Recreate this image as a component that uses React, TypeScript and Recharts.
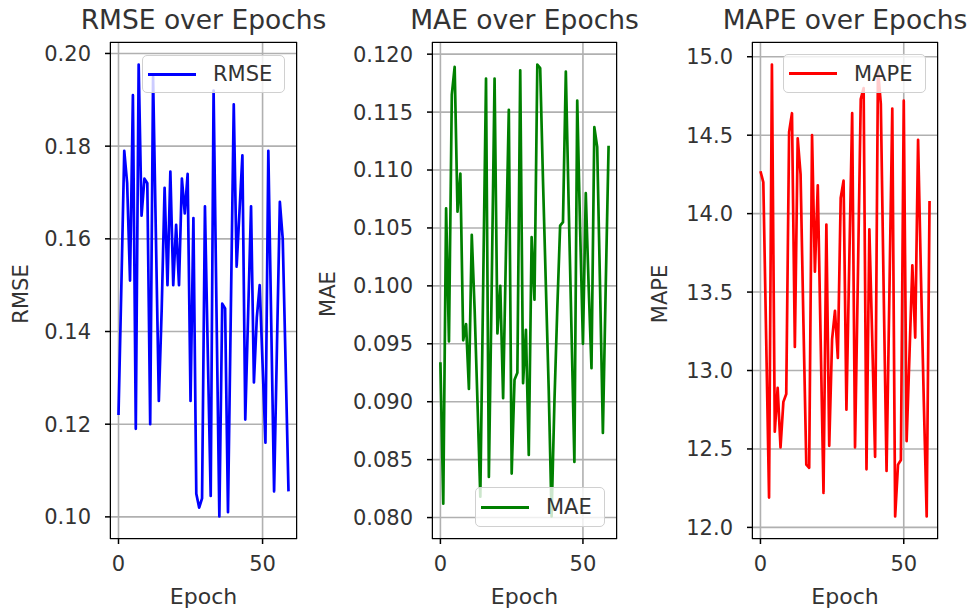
import React from 'react'
import { LineChart, Line, XAxis, YAxis, CartesianGrid, Legend } from 'recharts'

// values, epochs 0..59
const rmse = [
  0.122, 0.150, 0.179, 0.172, 0.151, 0.191, 0.119, 0.1976, 0.165, 0.173,
  0.172, 0.120, 0.195, 0.160, 0.125, 0.145, 0.171, 0.150, 0.1745, 0.150,
  0.163, 0.150, 0.173, 0.1655, 0.174, 0.125, 0.1645, 0.105, 0.102, 0.104,
  0.167, 0.135, 0.1045, 0.192, 0.145, 0.1001, 0.146, 0.145, 0.101, 0.145,
  0.189, 0.154, 0.166, 0.178, 0.121, 0.144, 0.167, 0.129, 0.143, 0.150,
  0.133, 0.116, 0.179, 0.142, 0.1055, 0.137, 0.168, 0.160, 0.133, 0.1055,
]

const mae = [
  0.0934, 0.0812, 0.1067, 0.0952, 0.1165, 0.1189, 0.1064, 0.1097, 0.0953, 0.0967,
  0.0911, 0.1044, 0.098, 0.090, 0.0818, 0.100, 0.1179, 0.0835, 0.100, 0.1179,
  0.0959, 0.1000, 0.0903, 0.103, 0.1152, 0.0838, 0.0919, 0.0925, 0.1186, 0.0916,
  0.0962, 0.0854, 0.1042, 0.0988, 0.1191, 0.1188, 0.109, 0.100, 0.091, 0.0801,
  0.090, 0.098, 0.1052, 0.1055, 0.1185, 0.107, 0.096, 0.0848, 0.1160, 0.105,
  0.0950, 0.1080, 0.100, 0.0929, 0.1137, 0.1120, 0.100, 0.0873, 0.100, 0.1121,
]

const mape = [
  14.27, 14.20, 13.2, 12.19, 14.95, 12.61, 12.89, 12.51, 12.80, 12.85,
  14.52, 14.64, 13.15, 14.48, 14.25, 13.3, 12.40, 12.38, 14.50, 13.63,
  14.18, 13.2, 12.22, 13.93, 12.52, 13.2, 13.38, 13.08, 14.10, 14.21,
  12.75, 13.7, 14.64, 12.51, 13.6, 14.73, 14.8, 12.37, 13.90, 13.2,
  12.45, 14.92, 14.70, 13.5, 12.36, 13.5, 14.67, 12.07, 12.40, 12.43,
  14.72, 12.55, 13.1, 13.67, 13.21, 14.47, 13.6, 12.8, 12.07, 14.08,
]

const epochTicks = [0, 50]
const rmseTicks = [0.1, 0.12, 0.14, 0.16, 0.18, 0.2]
const maeTicks = [0.08, 0.085, 0.09, 0.095, 0.1, 0.105, 0.11, 0.115, 0.12]
const mapeTicks = [12, 12.5, 13, 13.5, 14, 14.5, 15]

const FONT = '"DejaVu Sans", Verdana, sans-serif'
const TEXT = '#333'
const H = 612
const TOP = 42
const BOTTOM = 539

// matplotlib-like 5% autoscale margins
function padded(values: number[]): [number, number] {
  const lo = Math.min(...values)
  const hi = Math.max(...values)
  const m = (hi - lo) * 0.05
  return [lo - m, hi + m]
}

const xDomain: [number, number] = [-2.95, 61.95]

const renderLegend = (props: any) => {
  const item = props.payload?.[0]
  return (
    <div
      style={{
        boxSizing: 'border-box',
        width: '100%',
        height: '100%',
        display: 'flex',
        alignItems: 'center',
        paddingLeft: 5,
        background: 'rgba(255,255,255,0.8)',
        border: '1.5px solid #d0d0d0',
        borderRadius: 5,
        fontFamily: FONT,
        fontSize: 21,
        color: TEXT,
      }}
    >
      <span style={{ display: 'inline-block', width: 48, height: 3, background: item?.color, marginRight: 17 }} />
      <span>{item?.value}</span>
    </div>
  )
}

interface PanelProps {
  left: number
  width: number
  axisWidth: number
  right: number
  values: number[]
  name: string
  color: string
  ticks: number[]
  digits: number
  legend: { left: number; top: number; width: number; height: number }
  labelX: number
}

function Panel({ left, width, axisWidth, right, values, name, color, ticks, digits, legend, labelX }: PanelProps) {
  const data = values.map((v, i) => ({ epoch: i, [name]: v }))
  const plotLeft = left + axisWidth
  const plotRight = left + width - right
  const center = (plotLeft + plotRight) / 2
  const tickStyle = { fill: TEXT, fontSize: 21, fontFamily: FONT }

  return (
    <>
      <div
        style={{
          position: 'absolute',
          left: center,
          top: 7,
          transform: 'translateX(-50%)',
          whiteSpace: 'nowrap',
          fontFamily: FONT,
          fontSize: 26.5,
          lineHeight: '26px',
          color: TEXT,
        }}
      >
        {name} over Epochs
      </div>
      <div
        style={{
          position: 'absolute',
          left: center,
          top: 586,
          transform: 'translateX(-50%)',
          whiteSpace: 'nowrap',
          fontFamily: FONT,
          fontSize: 22,
          lineHeight: '22px',
          color: TEXT,
        }}
      >
        Epoch
      </div>
      <div
        style={{
          position: 'absolute',
          left: labelX,
          top: 294,
          transform: 'translate(-50%, -50%) rotate(-90deg)',
          whiteSpace: 'nowrap',
          fontFamily: FONT,
          fontSize: 21,
          lineHeight: '21px',
          color: TEXT,
        }}
      >
        {name}
      </div>
      <div style={{ position: 'absolute', left, top: 0, width, height: H }}>
        <LineChart width={width} height={H} data={data} margin={{ top: TOP, right, bottom: 0, left: 0 }}>
          <CartesianGrid stroke="#b0b0b0" strokeWidth={1.6} />
          <XAxis
            dataKey="epoch"
            type="number"
            scale="linear"
            domain={xDomain}
            allowDataOverflow
            ticks={epochTicks}
            height={H - BOTTOM}
            axisLine={false}
            tickSize={5}
            tickMargin={12}
            tickLine={{ stroke: '#000', strokeWidth: 1.5 }}
            tick={tickStyle}
          />
          <YAxis
            type="number"
            scale="linear"
            domain={padded(values)}
            allowDataOverflow
            ticks={ticks}
            width={axisWidth}
            axisLine={false}
            tickSize={5}
            tickMargin={14}
            tickLine={{ stroke: '#000', strokeWidth: 1.5 }}
            tick={tickStyle}
            tickFormatter={(v: number) => v.toFixed(digits)}
          />
          <Legend
            layout="vertical"
            align="center"
            verticalAlign="middle"
            wrapperStyle={{ left: legend.left, top: legend.top, width: legend.width, height: legend.height }}
            content={renderLegend}
          />
          <Line
            type="linear"
            dataKey={name}
            stroke={color}
            strokeWidth={2.7}
            strokeLinejoin="round"
            dot={false}
            activeDot={false}
            isAnimationActive={false}
          />
        </LineChart>
        <div
          style={{
            position: 'absolute',
            left: axisWidth,
            top: TOP,
            width: plotRight - plotLeft,
            height: BOTTOM - TOP,
            boxSizing: 'border-box',
            border: '1.5px solid #000',
            pointerEvents: 'none',
          }}
        />
      </div>
    </>
  )
}

export default function App() {
  return (
    <div style={{ position: 'absolute', left: 0, top: 0, width: 971, height: H, background: '#fff', overflow: 'hidden' }}>
      <Panel
        left={0}
        width={320}
        axisWidth={110}
        right={23}
        values={rmse}
        name="RMSE"
        color="#0000ff"
        ticks={rmseTicks}
        digits={2}
        legend={{ left: 142, top: 55, width: 143, height: 38 }}
        labelX={21}
      />
      <Panel
        left={320}
        width={320}
        axisWidth={112}
        right={23}
        values={mae}
        name="MAE"
        color="#008000"
        ticks={maeTicks}
        digits={3}
        legend={{ left: 155, top: 487, width: 130, height: 40 }}
        labelX={328}
      />
      <Panel
        left={640}
        width={331}
        axisWidth={112}
        right={33}
        values={mape}
        name="MAPE"
        color="#ff0000"
        ticks={mapeTicks}
        digits={1}
        legend={{ left: 143, top: 54, width: 143, height: 39 }}
        labelX={660}
      />
    </div>
  )
}
